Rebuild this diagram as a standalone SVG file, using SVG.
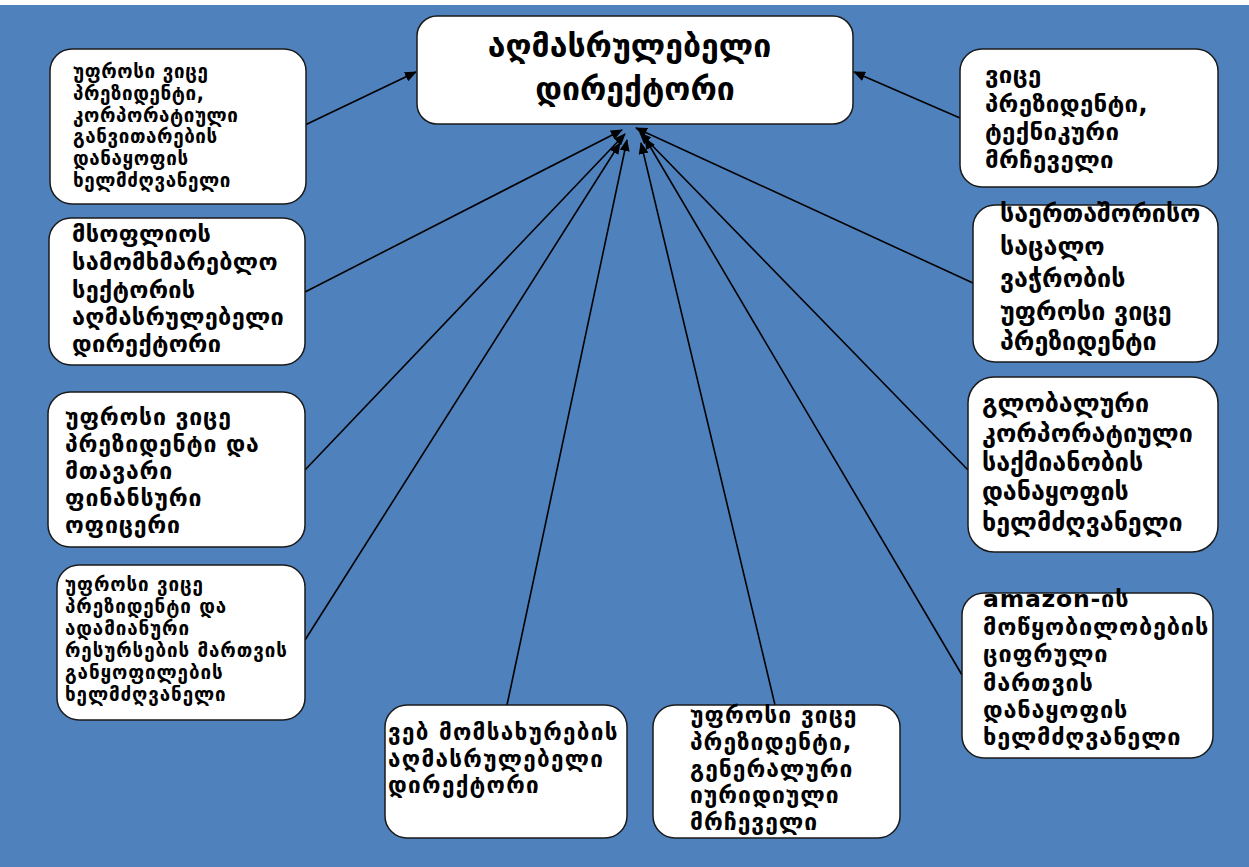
<svg xmlns="http://www.w3.org/2000/svg" width="1249" height="867" viewBox="0 0 1249 867">
  <style>
    .box { fill: #ffffff; stroke: #1a1a1a; stroke-width: 1.5; }
    .t { font-family: "DejaVu Sans", "Liberation Sans", sans-serif; font-weight: bold; fill: #000000; }
    .edge { stroke: #000000; stroke-width: 1.6; fill: none; marker-end: url(#arrow); }
  </style>
  <defs>
    <marker id="arrow" viewBox="0 0 12 10" refX="11" refY="5" markerWidth="12" markerHeight="10" markerUnits="userSpaceOnUse" orient="auto">
      <path d="M0,0 L12,5 L0,10 z" fill="#000000"/>
    </marker>
  </defs>

  <!-- page background -->
  <rect x="0" y="0" width="1249" height="867" fill="#ffffff"/>
  <rect x="0" y="5" width="1249" height="862" fill="#4f81bd"/>

  <!-- connectors -->
  <g id="connectors">
    <line class="edge" x1="305" y1="125" x2="416" y2="72"/>
    <line class="edge" x1="960" y1="118" x2="854" y2="72"/>
    <line class="edge" x1="305" y1="292" x2="622" y2="130"/>
    <line class="edge" x1="305" y1="470" x2="625" y2="134"/>
    <line class="edge" x1="305" y1="640" x2="620" y2="143"/>
    <line class="edge" x1="507" y1="705" x2="627" y2="140"/>
    <line class="edge" x1="775" y1="705" x2="641" y2="143"/>
    <line class="edge" x1="962" y1="675" x2="645" y2="138"/>
    <line class="edge" x1="968" y1="470" x2="640" y2="133"/>
    <line class="edge" x1="973" y1="283" x2="636" y2="128"/>
  </g>

  <!-- top node -->
  <g id="node-ceo">
    <rect class="box" x="417" y="16" width="436" height="108" rx="20"/>
    <text class="t" font-size="32" text-anchor="middle">
      <tspan x="635" y="57">აღმასრულებელი</tspan>
      <tspan x="635" y="100">დირექტორი</tspan>
    </text>
  </g>

  <!-- left column -->
  <g id="node-corp-dev">
    <rect class="box" x="50" y="49" width="256" height="155" rx="22"/>
    <text class="t" font-size="18.8" letter-spacing="0.6">
      <tspan x="73" y="78">უფროსი ვიცე</tspan>
      <tspan x="73" y="100">პრეზიდენტი,</tspan>
      <tspan x="73" y="122">კორპორატიული</tspan>
      <tspan x="73" y="143">განვითარების</tspan>
      <tspan x="73" y="165">დანაყოფის</tspan>
      <tspan x="73" y="187">ხელმძღვანელი</tspan>
    </text>
  </g>

  <g id="node-consumer">
    <rect class="box" x="49" y="218" width="256" height="147" rx="22"/>
    <text class="t" font-size="23.5" letter-spacing="0.3">
      <tspan x="72" y="242">მსოფლიოს</tspan>
      <tspan x="72" y="270">სამომხმარებლო</tspan>
      <tspan x="72" y="298">სექტორის</tspan>
      <tspan x="72" y="325">აღმასრულებელი</tspan>
      <tspan x="72" y="352">დირექტორი</tspan>
    </text>
  </g>

  <g id="node-cfo">
    <rect class="box" x="48" y="392" width="257" height="155" rx="22"/>
    <text class="t" font-size="23" letter-spacing="0.8">
      <tspan x="65" y="425">უფროსი ვიცე</tspan>
      <tspan x="65" y="452">პრეზიდენტი და</tspan>
      <tspan x="65" y="479">მთავარი</tspan>
      <tspan x="65" y="506">ფინანსური</tspan>
      <tspan x="65" y="533">ოფიცერი</tspan>
    </text>
  </g>

  <g id="node-hr">
    <rect class="box" x="57" y="565" width="248" height="155" rx="22"/>
    <text class="t" font-size="18.8" letter-spacing="0.9">
      <tspan x="65" y="591">უფროსი ვიცე</tspan>
      <tspan x="65" y="613">პრეზიდენტი და</tspan>
      <tspan x="65" y="635">ადამიანური</tspan>
      <tspan x="65" y="657">რესურსების მართვის</tspan>
      <tspan x="65" y="679">განყოფილების</tspan>
      <tspan x="65" y="701">ხელმძღვანელი</tspan>
    </text>
  </g>

  <!-- bottom row -->
  <g id="node-web-services">
    <rect class="box" x="385" y="705" width="242" height="133" rx="22"/>
    <text class="t" font-size="22.5" letter-spacing="1.3">
      <tspan x="388" y="740">ვებ მომსახურების</tspan>
      <tspan x="388" y="767">აღმასრულებელი</tspan>
      <tspan x="388" y="793">დირექტორი</tspan>
    </text>
  </g>

  <g id="node-counsel">
    <rect class="box" x="653" y="705" width="247" height="133" rx="22"/>
    <text class="t" font-size="22.8" letter-spacing="1">
      <tspan x="690" y="723">უფროსი ვიცე</tspan>
      <tspan x="690" y="750">პრეზიდენტი,</tspan>
      <tspan x="690" y="777">გენერალური</tspan>
      <tspan x="690" y="803">იურიდიული</tspan>
      <tspan x="690" y="830">მრჩეველი</tspan>
    </text>
  </g>

  <!-- right column -->
  <g id="node-tech-advisor">
    <rect class="box" x="960" y="49" width="258" height="138" rx="22"/>
    <text class="t" font-size="24" letter-spacing="0.3">
      <tspan x="985" y="83">ვიცე</tspan>
      <tspan x="985" y="112">პრეზიდენტი,</tspan>
      <tspan x="985" y="140">ტექნიკური</tspan>
      <tspan x="985" y="168">მრჩეველი</tspan>
    </text>
  </g>

  <g id="node-retail">
    <rect class="box" x="973" y="205" width="245" height="157" rx="22"/>
    <text class="t" font-size="25">
      <tspan x="1000" y="222">საერთაშორისო</tspan>
      <tspan x="1000" y="255">საცალო</tspan>
      <tspan x="1000" y="287">ვაჭრობის</tspan>
      <tspan x="1000" y="320">უფროსი ვიცე</tspan>
      <tspan x="1000" y="350">პრეზიდენტი</tspan>
    </text>
  </g>

  <g id="node-global-corp">
    <rect class="box" x="968" y="377" width="250" height="175" rx="26"/>
    <text class="t" font-size="25">
      <tspan x="982" y="412">გლობალური</tspan>
      <tspan x="982" y="442">კორპორატიული</tspan>
      <tspan x="982" y="471">საქმიანობის</tspan>
      <tspan x="982" y="500">დანაყოფის</tspan>
      <tspan x="982" y="531">ხელმძღვანელი</tspan>
    </text>
  </g>

  <g id="node-devices">
    <rect class="box" x="962" y="593" width="251" height="165" rx="22"/>
    <text class="t" font-size="23.5" letter-spacing="0.8">
      <tspan x="983" y="607">amazon-ის</tspan>
      <tspan x="983" y="635">მოწყობილობების</tspan>
      <tspan x="983" y="662">ციფრული</tspan>
      <tspan x="983" y="691">მართვის</tspan>
      <tspan x="983" y="718">დანაყოფის</tspan>
      <tspan x="983" y="745">ხელმძღვანელი</tspan>
    </text>
  </g>
</svg>
